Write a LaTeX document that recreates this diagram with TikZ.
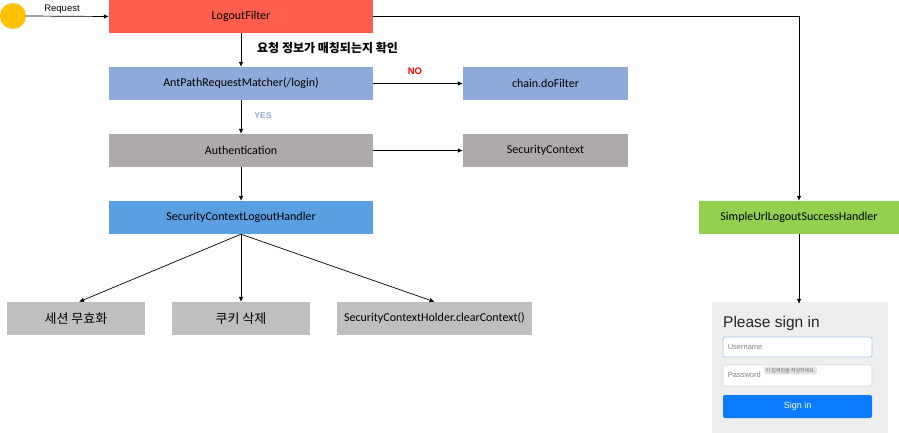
\documentclass[tikz,border=0pt]{standalone}
\usepackage{fontspec}
\setmainfont{Carlito}
\newfontfamily\kr{Noto Sans CJK KR}
\newfontfamily\arial{Liberation Sans}
\usetikzlibrary{arrows.meta}
\definecolor{cRed}{RGB}{255,94,77}
\definecolor{cYel}{RGB}{255,192,0}
\definecolor{cLBlue}{RGB}{142,170,219}
\definecolor{cGrayA}{RGB}{174,170,170}
\definecolor{cBlue}{RGB}{91,159,227}
\definecolor{cGrayB}{RGB}{191,191,191}
\definecolor{cGreen}{RGB}{146,208,80}
\definecolor{cPanel}{RGB}{238,238,238}
\definecolor{cBtn}{RGB}{10,123,255}
\definecolor{cUserB}{RGB}{168,200,240}
\definecolor{cPassB}{RGB}{218,218,218}
\definecolor{cTip}{RGB}{228,228,228}
\definecolor{cNo}{RGB}{255,0,0}
\tikzset{
  box/.style={inner sep=0, minimum height=33pt, font=\fontsize{12}{14}\selectfont},
  wide/.style={box, minimum width=264pt},
  mid/.style={box, minimum width=165pt},
  low/.style={box, minimum width=138pt, fill=cGrayB},
  arr/.style={-{Latex[length=5pt,width=4.5pt]}, line width=0.7pt},
  lbl/.style={inner sep=0, font=\arial\fontsize{9.5}{11}\selectfont},
  field/.style={inner sep=0, rounded corners=2pt, fill=white, minimum width=149pt},
}
\begin{document}
\begin{tikzpicture}[x=1pt,y=-1pt]
\useasboundingbox (0,0) rectangle (899,433);
\node[circle, fill=cYel, minimum size=26pt, inner sep=0] (start) at (13,16) {};
\node[wide, fill=cRed] (lf) at (241,16.5) {LogoutFilter};
\node[wide, fill=cLBlue] (am) at (241,83.5) {AntPathRequestMatcher(/login)};
\node[mid, fill=cLBlue] (cd) at (545.5,83.5) {chain.doFilter};
\node[wide, fill=cGrayA] (auth) at (241,150.5) {Authentication};
\node[mid, fill=cGrayA] (sc) at (545.5,150.5) {SecurityContext};
\node[wide, fill=cBlue] (sclh) at (241,217.5) {SecurityContextLogoutHandler};
\node[box, minimum width=200pt, fill=cGreen] (sul) at (799,217.5) {SimpleUrlLogoutSuccessHandler};
\node[low, font=\kr\fontsize{13}{15}\selectfont] (b1) at (76,318.5) {세션 무효화};
\node[low, font=\kr\fontsize{13}{15}\selectfont] (b2) at (241,318.5) {쿠키 삭제};
\node[box, minimum width=195pt, fill=cGrayB] (b3) at (434.5,318.5) {SecurityContextHolder.clearContext()};
% labels
\node[lbl] (req) at (62,9) {Request};
\node[inner sep=0, anchor=west, font=\kr\bfseries\fontsize{12}{14}\selectfont] (chk) at (257,48) {요청 정보가 매칭되는지 확인};
\node[lbl, font=\arial\bfseries\fontsize{9.5}{11}\selectfont, text=cNo] (no) at (415,71) {NO};
\node[lbl, font=\arial\bfseries\fontsize{8.5}{10}\selectfont, text=cLBlue] (yes) at (263,116) {YES};
% connectors
\draw[arr] (start.east) -- (lf.west);
\draw[arr] (lf) -- (am);
\draw[arr] (am) -- (cd);
\draw[arr] (am) -- (auth);
\draw[arr] (auth) -- (sc);
\draw[arr] (auth) -- (sclh);
\draw[arr] (sclh.south) -- ([xshift=3pt]b1.north);
\draw[arr] (sclh.south) -- (b2.north);
\draw[arr] (sclh.south) -- (b3.north);
\draw[arr] (lf.east) -| (sul.north);
% login panel
\node[inner sep=0, fill=cPanel, minimum width=176pt, minimum height=131pt] (login) at (800,367.5) {};
\draw[arr] (sul.south) -- ([yshift=-2pt]sul.south |- login.north);
\node[inner sep=0, anchor=west, font=\arial\fontsize{15.5}{17}\selectfont, text=black!85] (title) at (723,323.5) {Please sign in};
\node[field, draw=cUserB, line width=0.8pt, minimum height=20pt] (user) at (797.5,347) {};
\node[inner sep=0, anchor=west, font=\arial\fontsize{7.5}{9}\selectfont, text=black!50] (ut) at (user.west) [xshift=5pt] {Username};
\node[field, draw=cPassB, line width=0.6pt, minimum height=21pt] (pass) at (797.5,375.5) {};
\node[inner sep=0, anchor=west, font=\arial\fontsize{7.5}{9}\selectfont, text=black!50] (pt) at ([xshift=5pt,yshift=1pt]pass.west) {Password};
\node[inner sep=1.5pt, fill=cTip, rounded corners=1pt, font=\kr\fontsize{5}{6}\selectfont, text=black!60] (tip) at (790.5,370.5) {이 입력란을 작성하세요.};
\node[field, fill=cBtn, minimum height=23pt, text=white, font=\arial\fontsize{9}{11}\selectfont] (btn) at (797.5,406.5) {Sign in};
\end{tikzpicture}
\end{document}
